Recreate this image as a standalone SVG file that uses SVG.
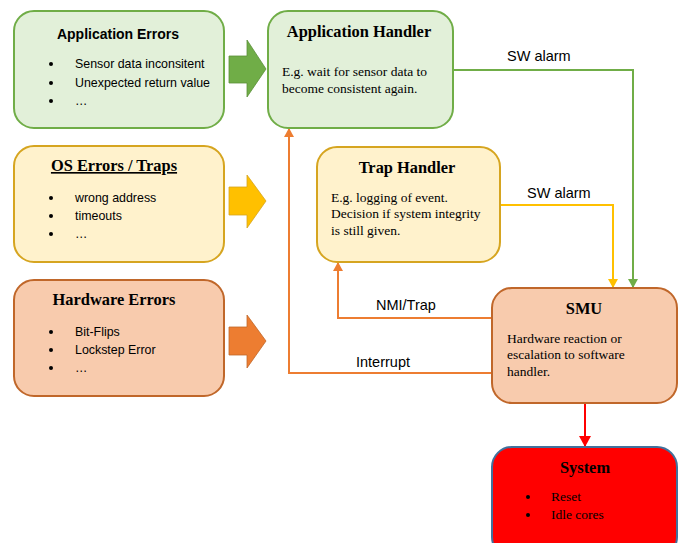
<svg xmlns="http://www.w3.org/2000/svg" width="683" height="543" viewBox="0 0 683 543">
<defs>
<style>
.g{fill:#e2f0d9;stroke:#70ad47;stroke-width:2}
.y{fill:#fff2cc;stroke:#d6a520;stroke-width:2}
.o{fill:#f8cbad;stroke:#c0672a;stroke-width:2}
.r{fill:#ff0000;stroke:#41719c;stroke-width:2}
.ts{font-family:"Liberation Sans",Arial,sans-serif;font-weight:bold;font-size:14px;fill:#000;text-anchor:middle}
.tt{font-family:"Liberation Serif","Times New Roman",serif;font-weight:bold;font-size:16.4px;fill:#000;text-anchor:middle}
.s{font-family:"Liberation Sans",Arial,sans-serif;font-size:12.4px;fill:#000}
.m{font-family:"Liberation Serif","Times New Roman",serif;font-size:13.5px;fill:#000}
.l{font-family:"Liberation Sans",Arial,sans-serif;font-size:14.5px;fill:#000}
.c{fill:none;stroke-width:2}
</style>
<marker id="ag" markerWidth="10" markerHeight="10" refX="8" refY="5" orient="auto" markerUnits="userSpaceOnUse" viewBox="0 0 10 10"><path d="M0,0 L9,5 L0,10 z" fill="#70ad47"/></marker>
<marker id="ay" markerWidth="10" markerHeight="10" refX="8" refY="5" orient="auto" markerUnits="userSpaceOnUse" viewBox="0 0 10 10"><path d="M0,0 L9,5 L0,10 z" fill="#ffc000"/></marker>
<marker id="ao" markerWidth="10" markerHeight="10" refX="8" refY="5" orient="auto" markerUnits="userSpaceOnUse" viewBox="0 0 10 10"><path d="M0,0 L9,5 L0,10 z" fill="#ed7d31"/></marker>
<marker id="ar" markerWidth="12" markerHeight="12" refX="10" refY="6" orient="auto" markerUnits="userSpaceOnUse" viewBox="0 0 12 12"><path d="M0,0 L11,6 L0,12 z" fill="#ff0000"/></marker>
</defs>
<rect width="683" height="543" fill="#fff"/>

<g id="connectors">
<polyline class="c" stroke="#70ad47" points="453,70 633,70 633,287" marker-end="url(#ag)"/>
<polyline class="c" stroke="#ffc000" points="500,205 613,205 613,287" marker-end="url(#ay)"/>
<polyline class="c" stroke="#ed7d31" points="492,318 338,318 338,263" marker-end="url(#ao)"/>
<polyline class="c" stroke="#ed7d31" points="492,373 289,373 289,129" marker-end="url(#ao)"/>
<line class="c" stroke="#ff0000" x1="585" y1="404" x2="585" y2="446" marker-end="url(#ar)"/>
<text class="l" x="507" y="61">SW alarm</text>
<text class="l" x="527" y="198">SW alarm</text>
<text class="l" x="376" y="310">NMI/Trap</text>
<text class="l" x="356" y="367">Interrupt</text>
</g>

<g id="arrow-green"><path d="M229,56 L247,56 L247,40 L266,69 L247,97 L247,83 L229,83 z" fill="#70ad47" stroke="#5a8f38" stroke-width="0.8"/></g>
<g id="arrow-yellow"><path d="M229,187 L247,187 L247,175 L266,201 L247,228 L247,215 L229,215 z" fill="#ffc000" stroke="#d6a520" stroke-width="0.8"/></g>
<g id="arrow-orange"><path d="M229,327 L247,327 L247,315 L266,341 L247,368 L247,355 L229,355 z" fill="#ed7d31" stroke="#c0672a" stroke-width="0.8"/></g>

<g id="app-errors">
<rect class="g" x="14" y="11" width="210" height="117" rx="20"/>
<text class="ts" x="118" y="39">Application Errors</text>
<circle cx="51" cy="64" r="2"/><text class="s" x="75" y="68">Sensor data inconsitent</text>
<circle cx="51" cy="83" r="2"/><text class="s" x="75" y="87">Unexpected return value</text>
<circle cx="51" cy="101" r="2"/><text class="s" x="75" y="105">…</text>
</g>

<g id="app-handler">
<rect class="g" x="268" y="11" width="185" height="117" rx="20"/>
<text class="tt" x="359" y="37">Application Handler</text>
<text class="m" x="282" y="76">E.g. wait for sensor data to</text>
<text class="m" x="282" y="93">become consistent again.</text>
</g>

<g id="os-errors">
<rect class="y" x="14" y="146" width="210" height="116" rx="20"/>
<text class="tt" x="114" y="171" text-decoration="underline">OS Errors / Traps</text>
<circle cx="51" cy="198" r="2"/><text class="s" x="75" y="202">wrong address</text>
<circle cx="51" cy="216" r="2"/><text class="s" x="75" y="220">timeouts</text>
<circle cx="51" cy="234" r="2"/><text class="s" x="75" y="238">…</text>
</g>

<g id="trap-handler">
<rect class="y" x="317" y="147" width="183" height="115" rx="20"/>
<text class="tt" x="407" y="173">Trap Handler</text>
<text class="m" x="331" y="202">E.g. logging of event.</text>
<text class="m" x="331" y="218">Decision if system integrity</text>
<text class="m" x="331" y="235">is still given.</text>
</g>

<g id="hw-errors">
<rect class="o" x="14" y="280" width="210" height="116" rx="20"/>
<text class="tt" x="114" y="305">Hardware Errors</text>
<circle cx="51" cy="332" r="2"/><text class="s" x="75" y="336">Bit-Flips</text>
<circle cx="51" cy="350" r="2"/><text class="s" x="75" y="354">Lockstep Error</text>
<circle cx="51" cy="368" r="2"/><text class="s" x="75" y="372">…</text>
</g>

<g id="smu">
<rect class="o" x="492" y="288" width="185" height="115" rx="20"/>
<text class="tt" x="584" y="314">SMU</text>
<text class="m" x="507" y="343">Hardware reaction or</text>
<text class="m" x="507" y="359">escalation to software</text>
<text class="m" x="507" y="376">handler.</text>
</g>

<g id="system">
<rect class="r" x="492" y="447" width="185" height="110" rx="20"/>
<text class="tt" x="585" y="473">System</text>
<circle cx="528" cy="497" r="2"/><text class="m" x="551" y="501">Reset</text>
<circle cx="528" cy="515" r="2"/><text class="m" x="551" y="519">Idle cores</text>
</g>
</svg>
